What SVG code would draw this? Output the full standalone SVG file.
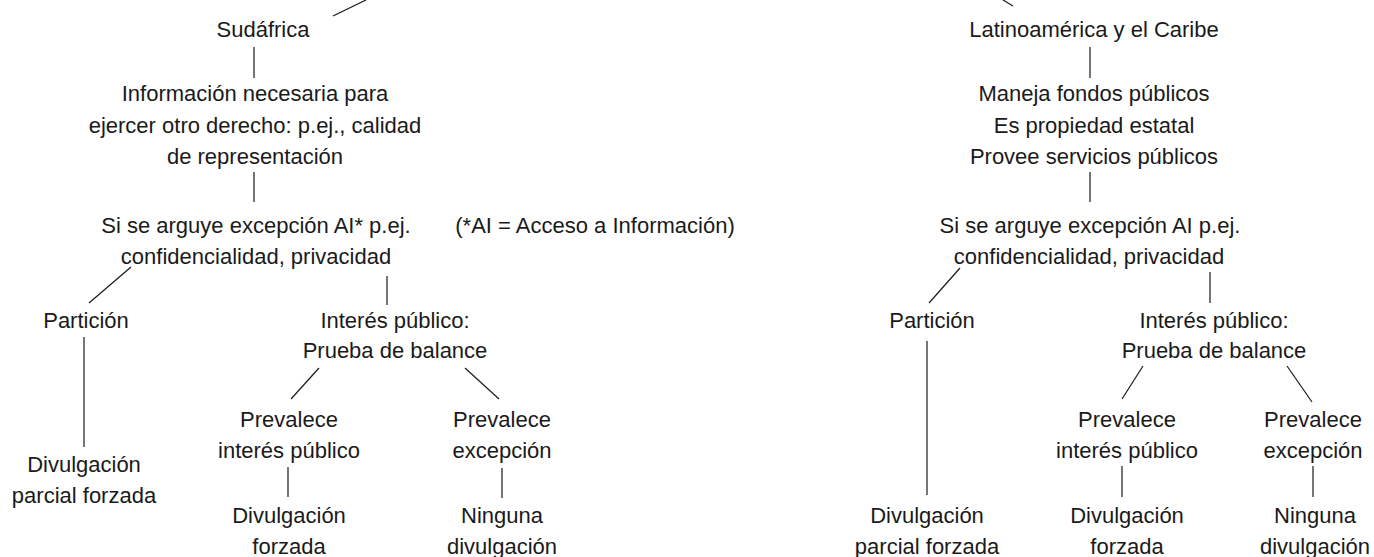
<svg xmlns="http://www.w3.org/2000/svg" width="1374" height="557" viewBox="0 0 1374 557">
<style>
text{font-family:"Liberation Sans",Arial,sans-serif;font-size:22px;fill:#1a1a1a;text-anchor:middle}
.c line{stroke:#1a1a1a;stroke-width:1.2}
</style>
<rect width="1374" height="557" fill="#fff"/>
<g class="c" id="connectors">
<line x1="333" y1="16" x2="366" y2="0"/>
<line x1="254" y1="47" x2="254" y2="78"/>
<line x1="254" y1="172" x2="254" y2="202"/>
<line x1="131" y1="267" x2="89" y2="303"/>
<line x1="84" y1="337" x2="84" y2="447"/>
<line x1="387" y1="276" x2="387" y2="305"/>
<line x1="319" y1="368" x2="291" y2="399"/>
<line x1="465" y1="368" x2="499" y2="399"/>
<line x1="288" y1="467" x2="288" y2="497"/>
<line x1="502" y1="468" x2="502" y2="498"/>
<line x1="1003" y1="0" x2="1013" y2="6"/>
<line x1="1090" y1="47" x2="1090" y2="78"/>
<line x1="1090" y1="172" x2="1090" y2="202"/>
<line x1="960" y1="268" x2="929" y2="303"/>
<line x1="927" y1="341" x2="927" y2="495"/>
<line x1="1210" y1="272" x2="1210" y2="303"/>
<line x1="1143" y1="366" x2="1122" y2="399"/>
<line x1="1287" y1="366" x2="1312" y2="402"/>
<line x1="1122" y1="466" x2="1122" y2="497"/>
<line x1="1313" y1="466" x2="1313" y2="497"/>
</g>
<g id="sudafrica"><text x="263" y="37">Sudáfrica</text></g>
<g id="info-necesaria"><text x="255" y="101">Información necesaria para</text><text x="255" y="133">ejercer otro derecho: p.ej., calidad</text><text x="255" y="164">de representación</text></g>
<g id="excepcion-l"><text x="256" y="233">Si se arguye excepción AI* p.ej.</text><text x="256" y="264">confidencialidad, privacidad</text></g>
<g id="nota"><text x="595" y="233">(*AI = Acceso a Información)</text></g>
<g id="particion-l"><text x="86" y="328">Partición</text></g>
<g id="div-parcial-l"><text x="84" y="472">Divulgación</text><text x="84" y="503">parcial forzada</text></g>
<g id="interes-l"><text x="395" y="328">Interés público:</text><text x="395" y="358">Prueba de balance</text></g>
<g id="prev-interes-l"><text x="289" y="427">Prevalece</text><text x="289" y="458">interés público</text></g>
<g id="div-forzada-l"><text x="289" y="523">Divulgación</text><text x="289" y="554">forzada</text></g>
<g id="prev-exc-l"><text x="502" y="427">Prevalece</text><text x="502" y="458">excepción</text></g>
<g id="ninguna-l"><text x="502" y="523">Ninguna</text><text x="502" y="554">divulgación</text></g>
<g id="latam"><text x="1094" y="37">Latinoamérica y el Caribe</text></g>
<g id="criterios"><text x="1094" y="101">Maneja fondos públicos</text><text x="1094" y="133">Es propiedad estatal</text><text x="1094" y="164">Provee servicios públicos</text></g>
<g id="excepcion-r"><text x="1090" y="233">Si se arguye excepción AI p.ej.</text><text x="1089" y="264">confidencialidad, privacidad</text></g>
<g id="particion-r"><text x="932" y="328">Partición</text></g>
<g id="div-parcial-r"><text x="927" y="523">Divulgación</text><text x="927" y="554">parcial forzada</text></g>
<g id="interes-r"><text x="1214" y="328">Interés público:</text><text x="1214" y="358">Prueba de balance</text></g>
<g id="prev-interes-r"><text x="1127" y="427">Prevalece</text><text x="1127" y="458">interés público</text></g>
<g id="div-forzada-r"><text x="1127" y="523">Divulgación</text><text x="1127" y="554">forzada</text></g>
<g id="prev-exc-r"><text x="1313" y="427">Prevalece</text><text x="1313" y="458">excepción</text></g>
<g id="ninguna-r"><text x="1315" y="523">Ninguna</text><text x="1315" y="554">divulgación</text></g>
</svg>
